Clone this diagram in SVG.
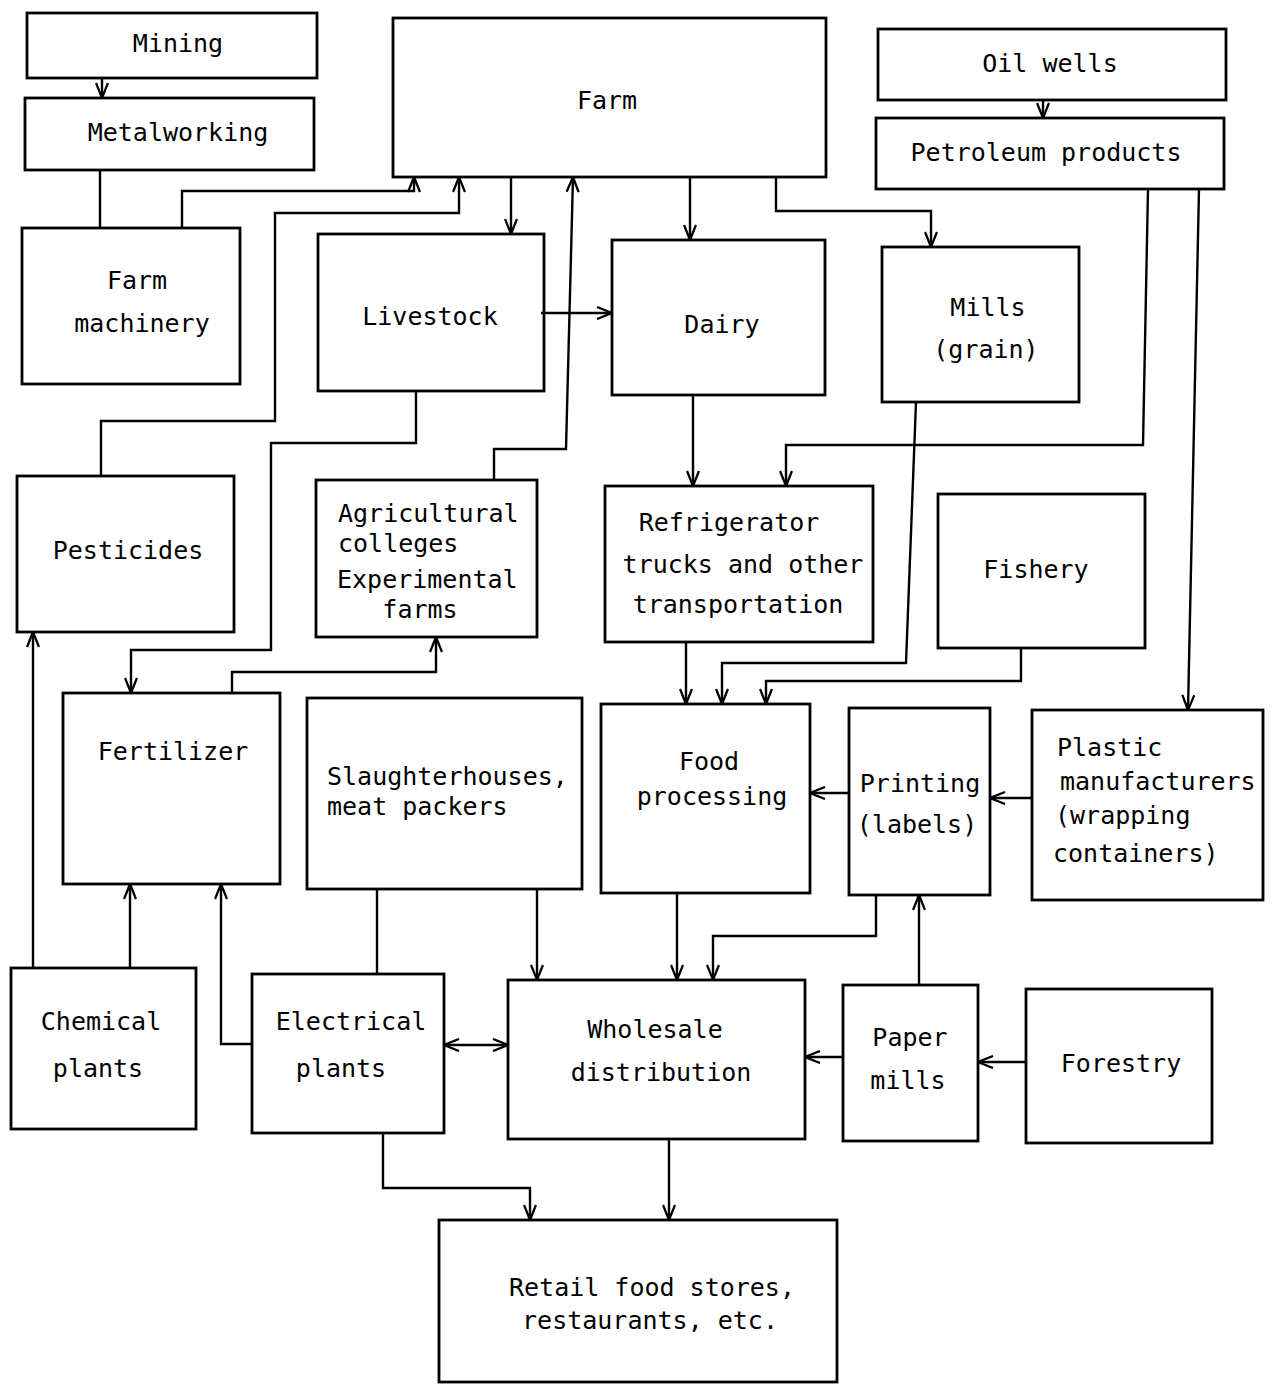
<svg xmlns="http://www.w3.org/2000/svg" width="1275" height="1385" viewBox="0 0 1275 1385">
<style>
.box{fill:none;stroke:#000;stroke-width:2.8}
.t{font-family:"DejaVu Sans Mono","Liberation Mono",monospace;font-size:25px;fill:#000}
.c{text-anchor:middle}
.ln{fill:none;stroke:#000;stroke-width:2.4}
.a{marker-end:url(#arr)}
.b{marker-start:url(#arr);marker-end:url(#arr)}
</style>
<defs>
<marker id="arr" viewBox="0 0 16 14" refX="16" refY="7" markerWidth="16" markerHeight="14" markerUnits="userSpaceOnUse" orient="auto-start-reverse">
<path d="M1,1 L16,7 L1,13" fill="none" stroke="#000" stroke-width="2.3"/>
</marker>
</defs>
<rect width="1275" height="1385" fill="#fff"/>
<g id="connectors">
<path class="ln a" d="M102,78 V98"/>
<path class="ln a" d="M1043,100 V118"/>
<path class="ln" d="M100,170 V228"/>
<path class="ln a" d="M182,228 V191 H414 V177"/>
<path class="ln a" d="M101,476 V421 H275 V213 H459 V177"/>
<path class="ln a" d="M511,177 V234"/>
<path class="ln a" d="M541,313 H612"/>
<path class="ln a" d="M494,480 V449 H566 L573,177"/>
<path class="ln a" d="M416,391 V443 H271 V650 H131 V693"/>
<path class="ln a" d="M690,177 V240"/>
<path class="ln a" d="M776,177 V211 H931 V247"/>
<path class="ln a" d="M693,395 V486"/>
<path class="ln a" d="M1148,189 L1143,445 H786 V486"/>
<path class="ln a" d="M1199,189 L1188,710"/>
<path class="ln a" d="M916,402 L906,663 H722 V704"/>
<path class="ln a" d="M686,642 V704"/>
<path class="ln a" d="M1021,648 V681 H766 V704"/>
<path class="ln a" d="M232,693 V672 H436 V637"/>
<path class="ln a" d="M33,968 V632"/>
<path class="ln a" d="M130,968 V884"/>
<path class="ln a" d="M252,1044 H221 V884"/>
<path class="ln" d="M377,889 V974"/>
<path class="ln a" d="M537,889 V980"/>
<path class="ln a" d="M677,893 V980"/>
<path class="ln a" d="M876,895 V936 H713 V980"/>
<path class="ln a" d="M849,793 H810"/>
<path class="ln a" d="M1032,798 H990"/>
<path class="ln a" d="M919,985 V895"/>
<path class="ln a" d="M843,1057 H805"/>
<path class="ln a" d="M1026,1062 H978"/>
<path class="ln b" d="M444,1045 H508"/>
<path class="ln a" d="M383,1133 V1188 H530 V1220"/>
<path class="ln a" d="M669,1139 V1220"/>
</g>
<g id="mining"><rect class="box" x="27" y="13" width="290" height="65"/><text class="t c" x="178" y="52">Mining</text></g>
<g id="metalworking"><rect class="box" x="25" y="98" width="289" height="72"/><text class="t c" x="178" y="141">Metalworking</text></g>
<g id="farm"><rect class="box" x="393" y="18" width="433" height="159"/><text class="t c" x="607" y="109">Farm</text></g>
<g id="oil-wells"><rect class="box" x="878" y="29" width="348" height="71"/><text class="t c" x="1050" y="72">Oil wells</text></g>
<g id="petroleum"><rect class="box" x="876" y="118" width="348" height="71"/><text class="t c" x="1046" y="161">Petroleum products</text></g>
<g id="farm-machinery"><rect class="box" x="22" y="228" width="218" height="156"/><text class="t c" x="137" y="289">Farm</text><text class="t c" x="142" y="332">machinery</text></g>
<g id="livestock"><rect class="box" x="318" y="234" width="226" height="157"/><text class="t c" x="430" y="325">Livestock</text></g>
<g id="dairy"><rect class="box" x="612" y="240" width="213" height="155"/><text class="t c" x="722" y="333">Dairy</text></g>
<g id="mills"><rect class="box" x="882" y="247" width="197" height="155"/><text class="t c" x="988" y="316">Mills</text><text class="t c" x="986" y="358">(grain)</text></g>
<g id="pesticides"><rect class="box" x="17" y="476" width="217" height="156"/><text class="t c" x="128" y="559">Pesticides</text></g>
<g id="ag-colleges"><rect class="box" x="316" y="480" width="221" height="157"/><text class="t" x="338" y="522">Agricultural</text><text class="t" x="338" y="552">colleges</text><text class="t" x="337" y="588">Experimental</text><text class="t c" x="420" y="618">farms</text></g>
<g id="refrigerator"><rect class="box" x="605" y="486" width="268" height="156"/><text class="t c" x="729" y="531">Refrigerator</text><text class="t c" x="743" y="573">trucks and other</text><text class="t c" x="738" y="613">transportation</text></g>
<g id="fishery"><rect class="box" x="938" y="494" width="207" height="154"/><text class="t c" x="1036" y="578">Fishery</text></g>
<g id="fertilizer"><rect class="box" x="63" y="693" width="217" height="191"/><text class="t c" x="173" y="760">Fertilizer</text></g>
<g id="slaughterhouses"><rect class="box" x="307" y="698" width="275" height="191"/><text class="t" x="327" y="785">Slaughterhouses,</text><text class="t" x="327" y="815">meat packers</text></g>
<g id="food-processing"><rect class="box" x="601" y="704" width="209" height="189"/><text class="t c" x="709" y="770">Food</text><text class="t c" x="712" y="805">processing</text></g>
<g id="printing"><rect class="box" x="849" y="708" width="141" height="187"/><text class="t c" x="920" y="792">Printing</text><text class="t c" x="917" y="833">(labels)</text></g>
<g id="plastic"><rect class="box" x="1032" y="710" width="231" height="190"/><text class="t" x="1057" y="756">Plastic</text><text class="t" x="1060" y="790">manufacturers</text><text class="t" x="1055" y="824">(wrapping</text><text class="t" x="1053" y="862">containers)</text></g>
<g id="chemical"><rect class="box" x="11" y="968" width="185" height="161"/><text class="t c" x="101" y="1030">Chemical</text><text class="t c" x="98" y="1077">plants</text></g>
<g id="electrical"><rect class="box" x="252" y="974" width="192" height="159"/><text class="t c" x="351" y="1030">Electrical</text><text class="t c" x="341" y="1077">plants</text></g>
<g id="wholesale"><rect class="box" x="508" y="980" width="297" height="159"/><text class="t c" x="655" y="1038">Wholesale</text><text class="t c" x="661" y="1081">distribution</text></g>
<g id="paper-mills"><rect class="box" x="843" y="985" width="135" height="156"/><text class="t c" x="910" y="1046">Paper</text><text class="t c" x="908" y="1089">mills</text></g>
<g id="forestry"><rect class="box" x="1026" y="989" width="186" height="154"/><text class="t c" x="1121" y="1072">Forestry</text></g>
<g id="retail"><rect class="box" x="439" y="1220" width="398" height="162"/><text class="t c" x="652" y="1296">Retail food stores,</text><text class="t c" x="650" y="1329">restaurants, etc.</text></g>
</svg>
